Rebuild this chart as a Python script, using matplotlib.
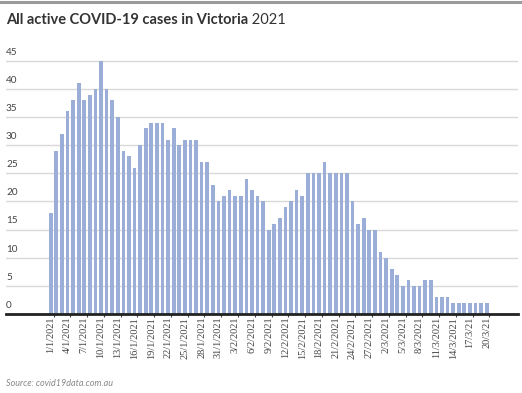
import matplotlib
matplotlib.use("Agg")
import matplotlib.pyplot as plt
from matplotlib.lines import Line2D
import numpy as np

values = [18, 29, 32, 36, 38, 41, 38, 39, 40, 45, 40, 38, 35, 29, 28, 26, 30, 33, 34, 34,
          34, 31, 33, 30, 31, 31, 31, 27, 27, 23, 20, 21, 22, 21, 21, 24, 22, 21, 20, 15,
          16, 17, 19, 20, 22, 21, 25, 25, 25, 27, 25, 25, 25, 25, 20, 16, 17, 15, 15, 11,
          10, 8, 7, 5, 6, 5, 5, 6, 6, 3, 3, 3, 2, 2, 2, 2, 2, 2, 2]

tick_labels = ["1/1/2021", "4/1/2021", "7/1/2021", "10/1/2021", "13/1/2021", "16/1/2021",
               "19/1/2021", "22/1/2021", "25/1/2021", "28/1/2021", "31/1/2021", "3/2/2021",
               "6/2/2021", "9/2/2021", "12/2/2021", "15/2/2021", "18/2/2021", "21/2/2021",
               "24/2/2021", "27/2/2021", "2/3/2021", "5/3/2021", "8/3/2021", "11/3/2021",
               "14/3/2021", "17/3/21", "20/3/21"]

y_ticks = [0, 5, 10, 15, 20, 25, 30, 35, 40, 45]

W, H = 522, 393
fig = plt.figure(figsize=(W / 100, H / 100), dpi=100)

left_px, right_px = 6, 518
bottom_px, top_px = 314, 58
ax = fig.add_axes([left_px / W, 1 - bottom_px / H, (right_px - left_px) / W, (bottom_px - top_px) / H])

x = np.arange(len(values))
ax.bar(x, values, width=0.66, color="#9aaed8", zorder=2)

ax.set_xlim(-8.0, 83.6)
ax.set_ylim(0, 45.5)

for s in ["top", "right", "left"]:
    ax.spines[s].set_visible(False)
ax.spines["bottom"].set_color("#222222")
ax.spines["bottom"].set_linewidth(2)
ax.spines["bottom"].set_zorder(3)

ax.set_yticks(y_ticks)
ax.yaxis.grid(True, color="#d9d9d9", linewidth=1, zorder=0)
ax.tick_params(axis="y", length=0, labelleft=False)

for v in y_ticks:
    ax.annotate(str(v), xy=(0, v), xycoords=("axes fraction", "data"),
                xytext=(0, 3), textcoords="offset points", ha="left", va="bottom",
                fontsize=7.2, color="#444444", family="Lato")

label_pos = x[::3]
ax.set_xticks(label_pos)
ax.set_xticklabels(tick_labels, rotation=90, fontsize=7.5, color="#444444",
                   family="Liberation Serif")
ax.tick_params(axis="x", length=0, pad=2)
ax.set_xticks(label_pos + 0.5, minor=True)
ax.tick_params(axis="x", which="minor", length=2.5, width=0.8, color="#444444")

# top rule
fig.add_artist(Line2D([0, 1], [1 - 2 / H, 1 - 2 / H], color="#9a9a9a", linewidth=2.2,
                      transform=fig.transFigure))

t1 = fig.text(6 / W, 1 - 20 / H, "All active COVID-19 cases in Victoria", fontsize=10.5,
              fontweight="bold", color="#333333", family="Lato", va="center", ha="left")
fig.canvas.draw()
ax.annotate(" 2021", xy=(1, 0), xycoords=t1, va="bottom", ha="left", fontsize=10.5,
            color="#333333", family="Lato")

fig.text(6 / W, 1 - 383 / H, "Source: covid19data.com.au", fontsize=6.5, style="italic",
         color="#888888", family="Lato", va="center", ha="left")

fig.savefig("out.png", dpi=100)
